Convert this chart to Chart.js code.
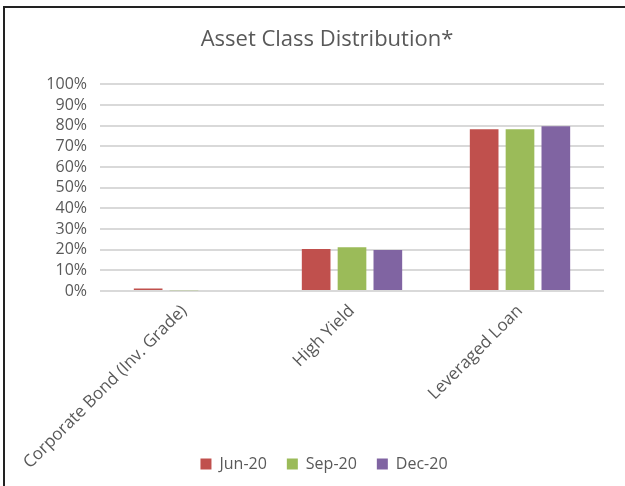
<!DOCTYPE html>
<html>
<head>
<meta charset="utf-8">
<script src="https://cdn.jsdelivr.net/npm/chart.js@4"></script>
<style>
  html,body{margin:0;padding:0;background:#fff;}
  #wrap{position:relative;width:625px;height:486px;overflow:hidden;}
  #frame{position:absolute;left:3px;top:6px;width:700px;height:600px;border-left:2px solid #222;border-top:2px solid #222;}
  canvas{position:absolute;left:0;top:0;}
</style>
</head>
<body>
<div id="wrap">
  <div id="frame"></div>
  <canvas id="chart" width="625" height="486"></canvas>
</div>
<script>
const categories=['Corporate Bond (Inv. Grade)','High Yield','Leveraged Loan'];
const seriesNames=['Jun-20','Sep-20','Dec-20'];
const jun20=[1.2,20.3,78.3];
const sep20=[0.4,21.2,78.3];
const dec20=[0,19.8,79.8];
const colors=['#c0504d','#9bbb59','#8064a2'];

Chart.defaults.font.family='"Open Sans", Lato, sans-serif';
Chart.defaults.color='#595959';

// the original frame is wider than the crop, so title and legend sit a bit right of the plot centre
const shiftBoxes={
    id:'shiftBoxes',
    afterLayout(c){
        c.titleBlock.left+=20; c.titleBlock.right+=20;
        c.legend.left+=17; c.legend.right+=17;
        c.scales.x.bottom=c.height; // let rotated labels run past the axis box
    }
};

let chart=document.getElementById("chart");

new Chart(chart,{
    type:'bar',
    data:{
        labels:categories,
        datasets:[jun20,sep20,dec20].map((vals,i)=>({
            label:seriesNames[i],
            data:vals,
            backgroundColor:colors[i],
            borderWidth:0,
            categoryPercentage:0.64,
            barPercentage:0.8
        }))
    },
    options:{
        responsive:false,
        animation:false,
        layout:{padding:{left:10,right:21,top:10,bottom:4}},
        plugins:{
            title:{
                display:true,
                text:'Asset Class Distribution*',
                font:{size:22,weight:'normal'},
                color:'#595959',
                padding:{top:17,bottom:31}
            },
            legend:{
                position:'bottom',
                labels:{
                    boxWidth:11,
                    boxHeight:11,
                    font:{size:16},
                    padding:20,
                    color:'#595959'
                }
            },
            tooltip:{enabled:false}
        },
        scales:{
            x:{
                grid:{display:false},
                border:{display:false},
                ticks:{
                    minRotation:45,
                    maxRotation:45,
                    autoSkip:false,
                    font:{size:17},
                    color:'#595959',
                    padding:2
                },
                afterFit:function(scale){scale.height=145;}
            },
            y:{
                min:0,
                max:100,
                ticks:{
                    stepSize:10,
                    autoSkip:false,
                    font:{size:16},
                    color:'#595959',
                    padding:13,
                    callback:v=>v+'%'
                },
                grid:{color:'#d9d9d9',lineWidth:2,drawTicks:false},
                border:{display:false},
                afterFit:function(scale){scale.width=90;}
            }
        }
    },
    plugins:[shiftBoxes]
});
</script>
</body>
</html>
